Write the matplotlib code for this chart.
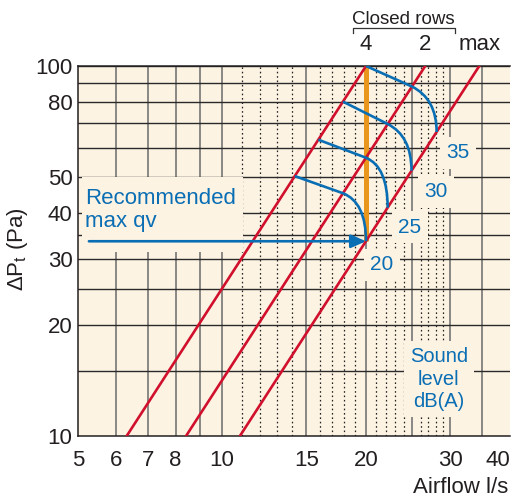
import matplotlib
matplotlib.use('Agg')
import matplotlib.pyplot as plt
from matplotlib.path import Path
from matplotlib.patches import PathPatch, Rectangle
from matplotlib.ticker import NullLocator, FixedLocator, FixedFormatter
import matplotlib.transforms as mtransforms

plt.rcParams['font.family'] = ['Liberation Sans', 'DejaVu Sans']
plt.rcParams['mathtext.default'] = 'regular'

# axis ticks
xTicks = [5, 6, 7, 8, 10, 15, 20, 30, 40]
yTicks = [10, 20, 30, 40, 50, 80, 100]

# grid lines
xGridSolid = [6, 7, 8, 9, 10, 15, 20, 25, 30, 35]
xGridDotted = [11, 12, 13, 14, 16, 17, 18, 19, 21, 22, 23, 24, 26, 27, 28, 29]
yGrid = [15, 20, 25, 30, 35, 40, 50, 60, 70, 80, 90, 100]

# pressure drop lines per closed rows: airflow at 10 Pa and at 100 Pa
rowLabels = ['4', '2', 'max']
rowFlow10 = [6.32, 8.41, 10.9]
rowFlow100 = [20.0, 26.6, 34.5]

# sound level curves (airflow, pressure)
soundLevels = [20, 25, 30, 35]
soundStart = [(14.2, 50.4), (15.9, 63.2), (17.9, 80.1), (20.0, 100.0)]
soundCross = [(17.9, 45.3), (20.0, 56.5), (22.2, 69.7), (24.95, 88.0)]
soundCorner = [(20.0, 42.8), (22.2, 53.4), (24.9, 64.7), (28.1, 81.5)]
soundEnd = [(20.0, 33.6), (22.2, 41.4), (24.9, 52.1), (28.1, 66.3)]
soundLabelPos = [(21.6, 29.0), (24.7, 36.7), (28.0, 45.7), (31.1, 58.2)]

# recommended max airflow
recFlow = 20.0
recPressure = 33.6
arrowStart = 5.27

BG = '#fdf3e3'
RED = '#d0102c'
BLUE = '#0a6eb4'
ORANGE = '#e9961c'
INK = '#231f20'

fig = plt.figure(figsize=(5.12, 5.0), dpi=100)
ax = fig.add_axes([78 / 512, 64 / 500, 432 / 512, 370 / 500])
ax.set_xscale('log')
ax.set_yscale('log')
ax.set_xlim(5, 40)
ax.set_ylim(10, 100)
ax.set_facecolor(BG)

ax.xaxis.set_major_locator(FixedLocator(xTicks))
ax.xaxis.set_major_formatter(FixedFormatter([str(t) for t in xTicks]))
ax.yaxis.set_major_locator(FixedLocator(yTicks))
ax.yaxis.set_major_formatter(FixedFormatter([str(t) for t in yTicks]))
ax.xaxis.set_minor_locator(NullLocator())
ax.yaxis.set_minor_locator(NullLocator())
ax.tick_params(axis='x', length=0, labelsize=16, pad=10, labelcolor=INK)
ax.tick_params(axis='y', length=0, labelsize=16, pad=4, labelcolor=INK)
# last x label sits inside the figure edge
fig.canvas.draw()
ax.get_xticklabels()[-1].set_horizontalalignment('right')

for s in ['left', 'bottom', 'top']:
	ax.spines[s].set_color(INK)
	ax.spines[s].set_linewidth(1.1)
ax.spines['right'].set_visible(False)

# grid
for v in xGridSolid:
	ax.axvline(v, color='#6a6a6a', lw=1.1, zorder=1)
for v in xGridDotted:
	ax.axvline(v, color='#222222', lw=0.9, ls=(0, (1.3, 2.2)), zorder=1)
for v in yGrid:
	ax.axhline(v, color='#2a2a2a', lw=1.0, zorder=1)

# backdrop behind the recommended label and arrow
ax.add_patch(Rectangle((0.009, 0.497), 0.373, 0.203, transform=ax.transAxes,
	facecolor=BG, edgecolor='none', zorder=2))

# orange recommended line
ax.plot([recFlow, recFlow], [recPressure, 100], color=ORANGE, lw=3.6, zorder=3, solid_capstyle='butt')

# red pressure lines
for f10, f100 in zip(rowFlow10, rowFlow100):
	ax.plot([f10, f100], [10, 100], color=RED, lw=1.9, zorder=4)

# blue sound curves
codes = [Path.MOVETO, Path.LINETO, Path.CURVE3, Path.CURVE3]
for i in range(len(soundLevels)):
	verts = [soundStart[i], soundCross[i], soundCorner[i], soundEnd[i]]
	ax.add_patch(PathPatch(Path(verts, codes), transform=ax.transData, fill=False,
		edgecolor=BLUE, lw=1.9, zorder=5))

for lvl, (q, p) in zip(soundLevels, soundLabelPos):
	ax.text(q, p, str(lvl), ha='center', va='center', color=BLUE, fontsize=15, zorder=2.5,
		bbox=dict(boxstyle='square,pad=0.3', fc=BG, ec='none'))

ax.text(28.4, 14.25, 'Sound\nlevel\ndB(A)', ha='center', va='center', color=BLUE, fontsize=14.5,
	linespacing=1.25, zorder=2.5, bbox=dict(boxstyle='square,pad=0.3', fc=BG, ec='none'))

ax.text(5.17, 40.8, 'Recommended\nmax qv', ha='left', va='center', color=BLUE, fontsize=16,
	linespacing=1.15, zorder=3)
ax.annotate('', xy=(recFlow, recPressure), xytext=(arrowStart, recPressure),
	arrowprops=dict(arrowstyle='-|>,head_length=0.45,head_width=0.2', color=BLUE, lw=1.9,
		mutation_scale=20, shrinkA=0, shrinkB=0), zorder=6)

# closed rows header above the plot
trans = mtransforms.blended_transform_factory(ax.transData, ax.transAxes)
for lab, q in zip(rowLabels, rowFlow100):
	ax.text(q, 1.059, lab, transform=trans, ha='center', va='center', fontsize=16, color=INK)
ax.plot([18.8, 18.8, 30.7, 30.7], [1.089, 1.103, 1.103, 1.089], transform=trans,
	clip_on=False, color='#333333', lw=0.9)
ax.text(23.9, 1.127, 'Closed rows', transform=trans, ha='center', va='center', fontsize=13.5, color=INK)

ax.text(0.996, -0.14, 'Airflow l/s', transform=ax.transAxes, ha='right', va='center', fontsize=16, color=INK)
ax.text(-0.141, 0.505, 'ΔP$_t$ (Pa)', transform=ax.transAxes, rotation=90, ha='center', va='center',
	fontsize=16, color=INK)

fig.savefig('out.png', dpi=100, facecolor='white')
